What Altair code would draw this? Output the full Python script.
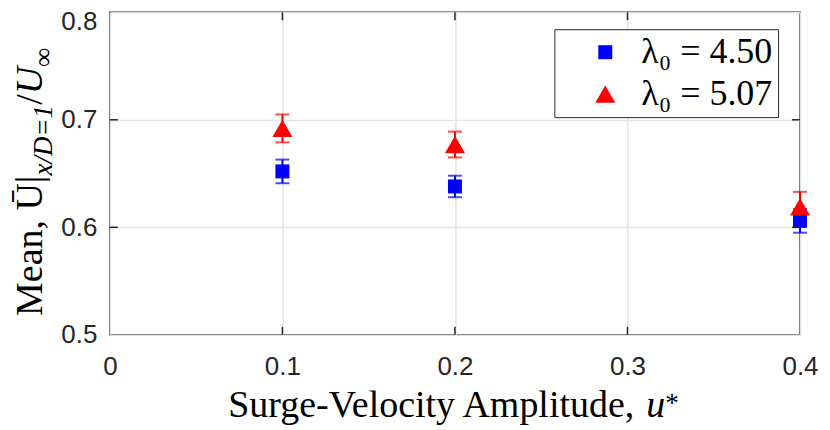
import altair as alt
import pandas as pd

# ---- data ----
x_vals = [0.1, 0.2, 0.4]
series_names = ["λ₀ = 4.50", "λ₀ = 5.07"]
series_colors = ["#0000ff", "#ff0000"]
series_shapes = ["square", "triangle-up"]
blue_mean = [0.652, 0.638, 0.606]
blue_err = [0.011, 0.010, 0.011]
red_mean = [0.692, 0.677, 0.619]
red_err = [0.013, 0.012, 0.014]
x_tick_values = [0, 0.1, 0.2, 0.3, 0.4]
y_tick_values = [0.5, 0.6, 0.7, 0.8]
x_inner_ticks = [0.1, 0.2, 0.3]
y_inner_ticks = [0.6, 0.7]

rows = []
for name, means, errs in [(series_names[0], blue_mean, blue_err),
                          (series_names[1], red_mean, red_err)]:
    for x, m, e in zip(x_vals, means, errs):
        rows.append({"series": name, "x": x, "mean": m, "lo": m - e, "hi": m + e})
df = pd.DataFrame(rows)

W, H = 691, 323
xscale = alt.Scale(domain=[0, 0.4], nice=False, zero=False)
yscale = alt.Scale(domain=[0.5, 0.8], nice=False, zero=False)
INK = "#262626"
SERIF = "Liberation Serif"
SANS = "Liberation Sans"

xaxis = alt.Axis(values=x_tick_values, format="~g", grid=True, ticks=False, domain=False,
                 labelFont=SANS, labelFontSize=26, labelColor=INK, labelPadding=19,
                 labelFlush=False, title=None)
yaxis = alt.Axis(values=y_tick_values, format=".1f", grid=True, ticks=False, domain=False,
                 labelFont=SANS, labelFontSize=26, labelColor=INK, labelPadding=13,
                 labelFlush=False, title=None,
                 labelOffset={"condition": {"test": "datum.value >= 0.8", "value": 9}, "value": 0})

layers = []

# error bars (per series)
for name, col in zip(series_names, series_colors):
    sub = alt.Chart(df).transform_filter(alt.datum.series == name)
    layers.append(sub.mark_rule(color=col, strokeWidth=2).encode(
        x=alt.X("x:Q", scale=xscale, axis=xaxis, title=None),
        y=alt.Y("lo:Q", scale=yscale, axis=yaxis, title=None),
        y2="hi:Q"))
    for fld in ["lo", "hi"]:
        layers.append(sub.mark_tick(color=col, orient="horizontal", size=14, thickness=2).encode(
            x=alt.X("x:Q", scale=xscale, title=None),
            y=alt.Y(f"{fld}:Q", scale=yscale, title=None)))

leg = alt.Legend(orient="none", legendX=445, legendY=17, title=None,
                 labelFont=SERIF, labelFontSize=36, labelColor="#000000",
                 padding=5, strokeColor=INK, fillColor="white",
                 symbolOffset=28, labelOffset=18, rowPadding=6,
                 symbolSize=190, symbolStrokeWidth=0, symbolOpacity=1)

points = alt.Chart(df).mark_point(filled=True, opacity=1, strokeWidth=0).encode(
    x=alt.X("x:Q", scale=xscale, title=None),
    y=alt.Y("mean:Q", scale=yscale, title=None),
    color=alt.Color("series:N", scale=alt.Scale(domain=series_names, range=series_colors), legend=leg),
    shape=alt.Shape("series:N", scale=alt.Scale(domain=series_names, range=series_shapes), legend=leg),
    size=alt.Size("series:N", scale=alt.Scale(domain=series_names, range=[196, 400]), legend=None),
)
layers.append(points)

# inward ticks (MATLAB style box ticks)
xt = pd.DataFrame({"x": x_inner_ticks})
yt = pd.DataFrame({"mean": y_inner_ticks})
tick_style = dict(color=INK, strokeWidth=1.5)
layers.append(alt.Chart(xt).mark_rule(**tick_style).encode(
    x=alt.X("x:Q", scale=xscale, title=None), y=alt.value(H), y2=alt.value(H - 8)))
layers.append(alt.Chart(xt).mark_rule(**tick_style).encode(
    x=alt.X("x:Q", scale=xscale, title=None), y=alt.value(0), y2=alt.value(8)))
layers.append(alt.Chart(yt).mark_rule(**tick_style).encode(
    y=alt.Y("mean:Q", scale=yscale, title=None), x=alt.value(0), x2=alt.value(8)))
layers.append(alt.Chart(yt).mark_rule(**tick_style).encode(
    y=alt.Y("mean:Q", scale=yscale, title=None), x=alt.value(W), x2=alt.value(W - 8)))

# axis titles built from text pieces (regular / italic / sub- and superscripts)
one = pd.DataFrame({"k": [0]})
def txt(text, x, y, size, style="normal", angle=0, align="left"):
    kw = dict(text=text, font=SERIF, fontSize=size, fontStyle=style, align=align,
              baseline="alphabetic", color="#000000")
    if angle:
        kw["angle"] = angle
    return alt.Chart(one).mark_text(**kw).encode(x=alt.value(x), y=alt.value(y))

# x title
layers.append(txt("Surge-Velocity Amplitude,", 525, 405, 38, align="right"))
layers.append(txt("u", 537, 405, 38, "italic"))
layers.append(txt("*", 556, 400, 27))

# y title (rotated, reading upward)
F, S = 38, 27
main_x, sub_x = -68, -58
y0 = 304
wA = 3.699 * F
wB = 2.619 * S
wC = 0.278 * F
wD = 0.722 * F
layers.append(txt("Mean, Ū|", main_x, y0, F, angle=270))
layers.append(txt("x/D=1", sub_x, y0 - wA, S, "italic", angle=270))
layers.append(txt("/", main_x, y0 - wA - wB, F, angle=270))
layers.append(txt("U", main_x, y0 - wA - wB - wC, F, "italic", angle=270))
layers.append(txt("∞", sub_x, y0 - wA - wB - wC - wD, S, angle=270))

chart = alt.layer(*layers).properties(
    width=W, height=H,
    autosize=alt.AutoSizeParams(type="none"),
    padding={"left": 102, "top": 4, "right": 22, "bottom": 95},
).configure_view(
    stroke=INK, strokeWidth=1.5
).configure_axis(
    gridColor="#e3e3e3", gridWidth=1.5
)

chart.save("out.html", embed_options={"renderer": "svg", "actions": False})
